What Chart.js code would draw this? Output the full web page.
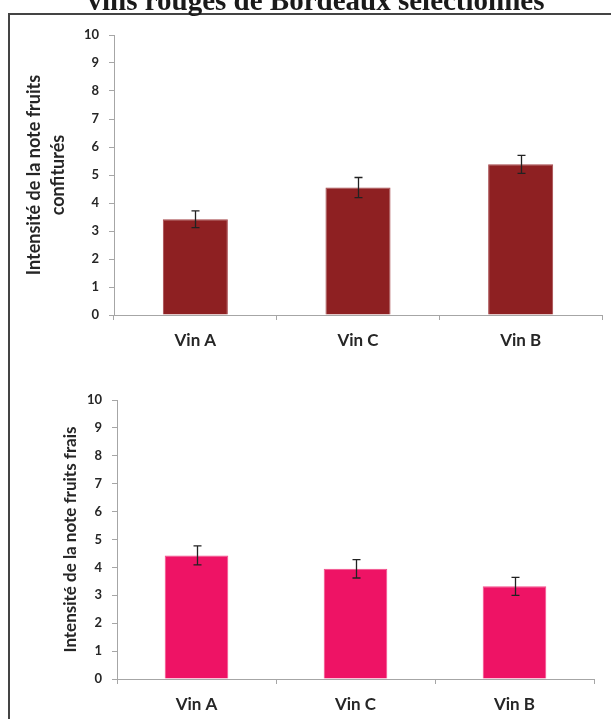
<!DOCTYPE html>
<html>
<head>
<meta charset="utf-8">
<script src="https://cdn.jsdelivr.net/npm/chart.js@4/dist/chart.umd.min.js"></script>
<style>
  html, body { margin: 0; padding: 0; background: #fff; overflow: hidden; }
  body { width: 611px; height: 719px; position: relative; }
  #title { position: absolute; left: 0; width: 611px; padding-left: 21px; box-sizing: border-box; text-align: center; white-space: nowrap;
           font-family: "Liberation Serif", serif; font-weight: bold; color: #1a1a1a; line-height: 1; }
  canvas { position: absolute; left: 0; }
  #frame { top: 0; }
  #c1 { top: 0; }
  #c2 { top: 360px; }
</style>
</head>
<body>
<canvas id="frame" width="611" height="719" style="width:611px;height:719px"></canvas>
<div id="title">vins rouges de Bordeaux sélectionnés</div>
<canvas id="c1" width="611" height="360" style="width:611px;height:360px"></canvas>
<canvas id="c2" width="611" height="359" style="width:611px;height:359px"></canvas>
<script>
// ---- data ----
const categories = ["Vin A", "Vin C", "Vin B"];
const confitValues = [3.42, 4.55, 5.38];
const confitErrors = [0.30, 0.36, 0.32];
const fraisValues = [4.43, 3.95, 3.32];
const fraisErrors = [0.34, 0.33, 0.32];
const yTickMin = 0, yTickMax = 10, yTickStep = 1;
const titleTop = ["Intensité de la note fruits", "confiturés"];
const titleBottom = "Intensité de la note fruits frais";

(function () {
  const t = document.getElementById('title');
  const fs = 29;
  t.style.fontSize = fs + 'px';
  t.style.top = (10 - 0.8375 * fs) + 'px';
  // outer frame (top and left edges only are visible in the reference)
  const fc = document.getElementById('frame').getContext('2d');
  fc.fillStyle = '#444';
  fc.fillRect(8, 13, 603, 2);
  fc.fillRect(8, 13, 2, 706);
})();

const errorBars = {
  id: 'errorBars',
  afterDatasetsDraw(chart) {
    const ctx = chart.ctx;
    const y = chart.scales.y;
    chart.data.datasets.forEach((ds, di) => {
      const meta = chart.getDatasetMeta(di);
      const errs = ds.errors || [];
      meta.data.forEach((bar, i) => {
        const v = ds.data[i], e = errs[i];
        if (e == null) return;
        const x = Math.round(bar.x) + 0.5;
        const yt = y.getPixelForValue(v + e);
        const yb = y.getPixelForValue(v - e);
        ctx.save();
        ctx.strokeStyle = '#222';
        ctx.lineWidth = 1.3;
        ctx.beginPath();
        ctx.moveTo(x, yt); ctx.lineTo(x, yb);
        ctx.moveTo(x - 4, yt); ctx.lineTo(x + 4, yt);
        ctx.moveTo(x - 4, yb); ctx.lineTo(x + 4, yb);
        ctx.stroke();
        ctx.restore();
      });
    });
  }
};

const axisColor = '#a6a6a6';
const textColor = '#262626';

function makeChart(id, values, errors, color, edge, yTitle, titleSize, yWidth, titlePad, pad) {
  return new Chart(document.getElementById(id), {
    type: 'bar',
    data: {
      labels: categories,
      datasets: [{
        data: values, errors: errors,
        backgroundColor: color, borderColor: edge, borderWidth: 1,
        categoryPercentage: 1.0, barPercentage: 0.4
      }]
    },
    options: {
      responsive: false, animation: false,
      layout: { padding: pad },
      plugins: { legend: { display: false }, tooltip: { enabled: false }, title: { display: false } },
      scales: {
        x: {
          grid: { display: true, drawOnChartArea: false, drawTicks: true, tickLength: 5, color: axisColor, offset: true },
          border: { color: axisColor, width: 1 },
          ticks: { color: textColor, font: { family: 'Lato', weight: 'bold', size: 17 }, padding: 10 },
          afterFit(s) { s.height = 40; }
        },
        y: {
          min: yTickMin, max: yTickMax,
          ticks: { stepSize: yTickStep, color: textColor, font: { family: 'Lato', weight: 'bold', size: 13 }, padding: 10 },
          grid: { display: true, drawOnChartArea: false, drawTicks: true, tickLength: 5, color: axisColor },
          border: { color: axisColor, width: 1 },
          title: { display: true, text: yTitle, color: textColor,
                   font: { family: 'Lato', weight: 'bold', size: titleSize, lineHeight: 24 / titleSize },
                   padding: { top: titlePad, bottom: 0 } },
          afterFit(s) { s.width = yWidth; }
        }
      }
    },
    plugins: [errorBars]
  });
}

makeChart('c1', confitValues, confitErrors, '#8e2022', '#a5464a', titleTop, 18, 114, 22,
          { left: 0, right: 9, top: 35, bottom: 5 });
makeChart('c2', fraisValues, fraisErrors, '#ee1365', '#f24d8a', titleBottom, 17, 117, 59,
          { left: 0, right: 17, top: 40, bottom: 0 });
</script>
</body>
</html>
